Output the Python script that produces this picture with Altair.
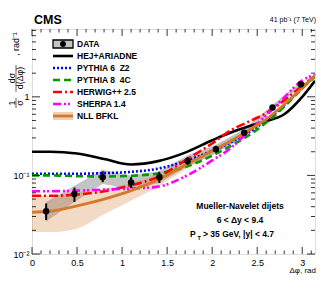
import math
import altair as alt
import pandas as pd

PI = math.pi

# ---------------- data ----------------
bin_x = [0.157, 0.471, 0.785, 1.100, 1.414, 1.728, 2.042, 2.356, 2.670, 2.985]
data_y = [0.035, 0.058, 0.095, 0.081, 0.095, 0.153, 0.216, 0.35, 0.73, 1.45]
err_lo = [0.027, 0.046, 0.082, 0.069, 0.080, 0.136, 0.196, 0.33, 0.70, 1.40]
err_hi = [0.044, 0.070, 0.113, 0.095, 0.111, 0.172, 0.238, 0.37, 0.76, 1.50]
sys_lo = [0.026, 0.046, 0.078, 0.067, 0.080, 0.130, 0.190, 0.315, 0.67, 1.35]
sys_hi = [0.046, 0.074, 0.118, 0.100, 0.113, 0.180, 0.245, 0.390, 0.79, 1.56]

curve_x = [0, 0.2, 0.5, 0.8, 1.1, 1.4, 1.7, 2.0, 2.2, 2.4, 2.6, 2.8, 3.0, PI]
hej = [0.20, 0.20, 0.19, 0.162, 0.138, 0.152, 0.195, 0.28, 0.35, 0.42, 0.49, 0.60, 1.0, 1.6]
py6 = [0.105, 0.105, 0.105, 0.107, 0.111, 0.122, 0.152, 0.205, 0.26, 0.35, 0.50, 0.78, 1.30, 1.85]
py8 = [0.100, 0.100, 0.098, 0.097, 0.099, 0.106, 0.128, 0.178, 0.235, 0.32, 0.47, 0.75, 1.28, 1.80]
hw = [0.055, 0.055, 0.057, 0.063, 0.075, 0.096, 0.155, 0.255, 0.37, 0.48, 0.62, 0.90, 1.38, 1.85]
sh = [0.063, 0.063, 0.064, 0.066, 0.068, 0.072, 0.097, 0.155, 0.22, 0.36, 0.58, 0.98, 1.62, 1.90]
nll = [0.034, 0.035, 0.041, 0.050, 0.064, 0.088, 0.135, 0.205, 0.27, 0.37, 0.52, 0.80, 1.30, 1.85]
nll_lo = [0.019, 0.019, 0.021, 0.032, 0.048, 0.072, 0.118, 0.185, 0.25, 0.35, 0.50, 0.78, 1.27, 1.82]
nll_hi = [0.055, 0.056, 0.061, 0.068, 0.080, 0.104, 0.152, 0.225, 0.29, 0.39, 0.54, 0.82, 1.33, 1.88]

NB = "\u00a0"
legend_labels = ["DATA", "HEJ+ARIADNE", "PYTHIA 6" + NB + NB + "Z2", "PYTHIA 8" + NB + NB + "4C",
                 "HERWIG++ 2.5", "SHERPA 1.4", "NLL BFKL"]

x_major = [0, 0.5, 1, 1.5, 2, 2.5, 3]
x_minor = [round(0.1 * i, 2) for i in range(1, 32) if i % 5 != 0]
y_major = [0.01, 0.1, 1]
y_minor = [m * 10.0 ** e for e in (-2, -1) for m in range(2, 10)] + [2, 3, 4, 5, 6, 7]

# ---------------- setup ----------------
W, H = 283, 225
FONT = "Liberation Sans"
ORANGE = "#d4782a"

xscale = alt.Scale(domain=[0, PI], nice=False, zero=False)
yscale = alt.Scale(type="log", domain=[0.01, 7.3], nice=False)
xaxis = alt.Axis(values=x_major, labelExpr="'' + datum.value", ticks=False, domain=False,
                 grid=False, labelFont=FONT, labelFontSize=9, labelPadding=4,
                 labelFlush=False, labelColor="black")
yaxis = alt.Axis(values=y_major,
                 labelExpr="datum.value >= 0.5 ? '1' : (datum.value >= 0.05 ? '10⁻¹' : '10⁻²')",
                 ticks=False, domain=False, grid=False, labelFont=FONT, labelFontSize=9,
                 labelPadding=3, labelFlush=False, labelColor="black")


def X(f):
    return alt.X(f, type="quantitative", scale=xscale, axis=xaxis, title="")


def Y(f):
    return alt.Y(f, type="quantitative", scale=yscale, axis=yaxis, title="")


dat = pd.DataFrame({"x": bin_x, "y": data_y, "lo": err_lo, "hi": err_hi,
                    "slo": sys_lo, "shi": sys_hi})
cur = pd.DataFrame({"x": curve_x, "hej": hej, "py6": py6, "py8": py8, "hw": hw,
                    "sh": sh, "nll": nll, "nlo": nll_lo, "nhi": nll_hi})

layers = []
# systematic band of data
layers.append(alt.Chart(dat).mark_area(color="#c4c4c4", clip=True).encode(
    x=X("x"), y=Y("slo"), y2="shi"))
# NLL BFKL band
layers.append(alt.Chart(cur).mark_area(color=ORANGE, opacity=0.27, interpolate="monotone",
                                       clip=True).encode(x=X("x"), y=Y("nlo"), y2="nhi"))

styles = [
    ("hej", "black", 2.6, None),
    ("py6", "#0000ff", 2.6, [2, 2]),
    ("py8", "#009900", 2.6, [7, 4]),
    ("hw", "#ff0000", 2.6, [9, 3, 2, 3]),
    ("sh", "#ff00ff", 2.6, [8, 3, 2, 2, 2, 3]),
    ("nll", ORANGE, 2.8, None),
]
for key, col, sw, dash in styles:
    kw = dict(color=col, strokeWidth=sw, interpolate="monotone", clip=True)
    if dash:
        kw["strokeDash"] = dash
    layers.append(alt.Chart(cur).mark_line(**kw).encode(x=X("x"), y=Y(key)))

# data points
layers.append(alt.Chart(dat).mark_rule(color="black", strokeWidth=2).encode(
    x=X("x"), y=Y("lo"), y2="hi"))
layers.append(alt.Chart(dat).mark_point(filled=True, color="black", size=42, opacity=1,
                                        shape="circle").encode(x=X("x"), y=Y("y")))

# ticks (inward, on all four sides)
for vals, ln in ((x_major, 7), (x_minor, 3.5)):
    df = pd.DataFrame({"t": vals})
    layers.append(alt.Chart(df).mark_rule(color="black", strokeWidth=0.8).encode(
        x=X("t"), y=alt.value(H), y2=alt.value(H - ln)))
    layers.append(alt.Chart(df).mark_rule(color="black", strokeWidth=0.8).encode(
        x=X("t"), y=alt.value(0), y2=alt.value(ln)))
for vals, ln in ((y_major, 8), (y_minor, 4)):
    df = pd.DataFrame({"t": vals})
    layers.append(alt.Chart(df).mark_rule(color="black", strokeWidth=0.8).encode(
        y=Y("t"), x=alt.value(0), x2=alt.value(ln)))
    layers.append(alt.Chart(df).mark_rule(color="black", strokeWidth=0.8).encode(
        y=Y("t"), x=alt.value(W), x2=alt.value(W - ln)))

one = pd.DataFrame({"a": [0]})


def txt(text, x, y, size=8.5, bold=True, align="left", angle=0, baseline="alphabetic"):
    kw = dict(text=text, font=FONT, fontSize=size, fontWeight="bold" if bold else "normal",
              align=align, baseline=baseline, color="black")
    if angle:
        kw["angle"] = angle
    return alt.Chart(one).mark_text(**kw).encode(x=alt.value(x), y=alt.value(y))


def rule(x1, y1, x2, y2, color="black", sw=1.0, dash=None):
    kw = dict(color=color, strokeWidth=sw)
    if dash:
        kw["strokeDash"] = dash
    return alt.Chart(one).mark_rule(**kw).encode(
        x=alt.value(x1), x2=alt.value(x2), y=alt.value(y1), y2=alt.value(y2))


# titles / annotations
layers.append(txt("CMS", 2, -5, size=12.5))
layers.append(txt("41 pb⁻¹ (7 TeV)", 284, -7, size=7, bold=False, align="right"))
layers.append(txt("Δφ, rad", 284, 244, size=8, bold=False, align="right"))
# y-axis title as a fraction
YS = 8.8
layers.append(txt("1", -20, 74, size=YS, bold=False, align="center", angle=270, baseline="middle"))
layers.append(txt("σ", -12, 74, size=YS, bold=False, align="center", angle=270, baseline="middle"))
layers.append(rule(-16, 69, -16, 79, sw=0.6))
layers.append(txt("dσ", -20, 49, size=YS, bold=False, align="center", angle=270, baseline="middle"))
layers.append(txt("d(Δφ)", -12, 49, size=YS, bold=False, align="center", angle=270, baseline="middle"))
layers.append(rule(-16, 36, -16, 63, sw=0.6))
layers.append(txt(", rad⁻¹", -16, 15, size=YS, bold=False, align="center", angle=270, baseline="middle"))

# info box
layers.append(txt("Mueller-Navelet dijets", 208, 180, align="center"))
layers.append(txt("6 < Δy < 9.4", 208, 194, align="center"))
layers.append(txt("P", 158, 208))
layers.append(txt("T", 165.5, 211, size=5.5))
layers.append(txt("> 35 GeV, |y| < 4.7", 171, 208))

# legend
ly = [15 + 12 * i for i in range(len(legend_labels))]
lx1, lx2 = 21, 41
for i, lab in enumerate(legend_labels):
    layers.append(txt(lab, 45, ly[i], baseline="middle"))
layers.append(alt.Chart(one).mark_rect(fill="#c4c4c4", stroke="black", strokeWidth=1.3).encode(
    x=alt.value(lx1), x2=alt.value(lx2), y=alt.value(ly[0] - 4), y2=alt.value(ly[0] + 4)))
layers.append(alt.Chart(one).mark_point(filled=True, color="black", size=34, opacity=1).encode(
    x=alt.value((lx1 + lx2) / 2), y=alt.value(ly[0])))
for i, (key, col, sw, dash) in enumerate(styles):
    yy = ly[i + 1]
    if key == "nll":
        layers.append(alt.Chart(one).mark_rect(fill=ORANGE, opacity=0.35).encode(
            x=alt.value(lx1), x2=alt.value(lx2), y=alt.value(yy - 4), y2=alt.value(yy + 4)))
    layers.append(rule(lx1, yy, lx2, yy, color=col, sw=sw, dash=dash))

chart = alt.layer(*layers).properties(
    width=W, height=H,
    padding={"left": 24, "top": 21, "right": 1, "bottom": 22},
    autosize=alt.AutoSizeParams(type="none"),
).configure_view(stroke="black", strokeWidth=1).configure(background="white")

chart.save("out.html", embed_options={"renderer": "svg", "actions": False})
